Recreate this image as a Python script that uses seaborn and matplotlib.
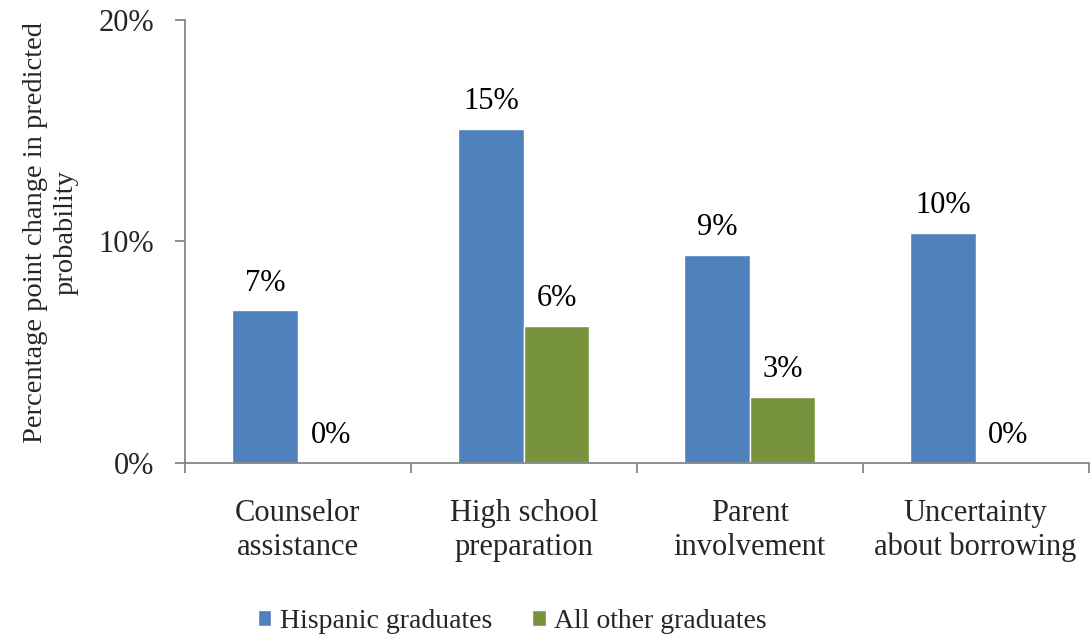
import matplotlib
matplotlib.use("Agg")
import matplotlib.pyplot as plt
import seaborn as sns
import pandas as pd
from matplotlib.ticker import FuncFormatter, FixedLocator

categories = ["Counselor\nassistance", "High school\npreparation",
              "Parent\ninvolvement", "Uncertainty\nabout borrowing"]
series_names = ["Hispanic graduates", "All other graduates"]
hispanic = [6.9, 15.1, 9.4, 10.4]
all_other = [0.0, 6.2, 3.0, 0.0]
y_ticks = [0, 10, 20]

df = pd.DataFrame({
    "category": categories * 2,
    "group": [series_names[0]] * 4 + [series_names[1]] * 4,
    "value": hispanic + all_other,
})

sns.set_theme(style="white")
plt.rcParams["font.family"] = ["Liberation Serif", "DejaVu Serif"]

FS = 22
AXIS_GRAY = "#868686"

fig = plt.figure(figsize=(10.9, 6.38), dpi=100)
ax = fig.add_axes([0.1697, 0.2743, 0.829, 0.6944])

palette = {series_names[0]: "#4F81BD", series_names[1]: "#77933C"}
sns.barplot(data=df, x="category", y="value", hue="group", order=categories,
            hue_order=series_names, palette=palette, width=0.58, ax=ax,
            saturation=1, legend=True)

for cont in ax.containers:
    labels = [f"{b.get_height():.0f}%" for b in cont]
    ax.bar_label(cont, labels=labels, padding=9, fontsize=FS, color="black")

ax.set_ylim(0, 20)
ax.set_xlim(-0.5, 3.5)
ax.yaxis.set_major_locator(FixedLocator(y_ticks))
ax.yaxis.set_major_formatter(FuncFormatter(lambda v, p: f"{v:.0f}%"))
ax.set_xlabel("")
ax.set_ylabel("Percentage point change in predicted\nprobability", fontsize=20.5,
              linespacing=1.3)
ax.yaxis.set_label_coords(-0.118, 0.521)

ax.xaxis.set_minor_locator(FixedLocator([-0.5, 0.5, 1.5, 2.5, 3.5]))
ax.tick_params(axis="x", which="major", length=0, pad=26, labelsize=FS)
ax.tick_params(axis="x", which="minor", length=7, width=1.3, color=AXIS_GRAY,
               direction="out", bottom=True)
ax.tick_params(axis="y", which="major", length=7, width=1.3, color=AXIS_GRAY,
               direction="out", left=True, labelsize=FS, pad=15)
for t in ax.get_xticklabels():
    t.set_linespacing(1.2)

for side in ["top", "right"]:
    ax.spines[side].set_visible(False)
for side in ["left", "bottom"]:
    ax.spines[side].set_color(AXIS_GRAY)
    ax.spines[side].set_linewidth(1.3)

handles, labels = ax.get_legend_handles_labels()
ax.get_legend().remove()
fig.legend(handles, labels, loc="center", bbox_to_anchor=(0.47, 0.026),
           ncol=2, frameon=False, fontsize=20, handlelength=0.5,
           handleheight=0.5, handletextpad=0.3, columnspacing=1.45)

fig.savefig("out.png", dpi=100)
